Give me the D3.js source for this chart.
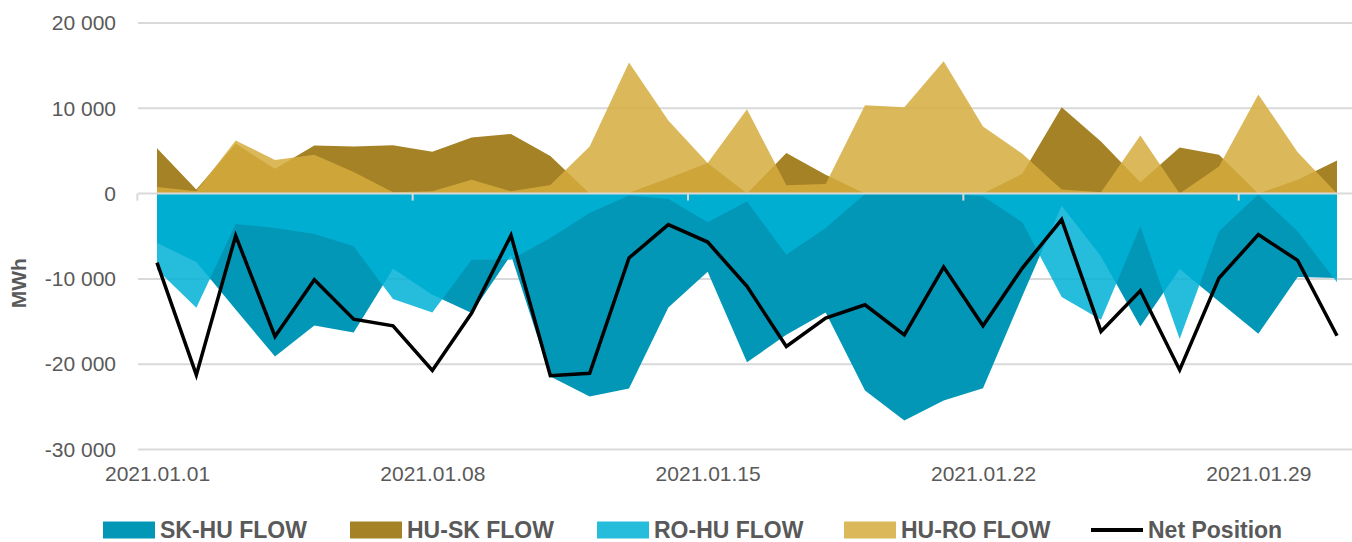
<!DOCTYPE html>
<html>
<head>
<meta charset="utf-8">
<script src="https://cdn.jsdelivr.net/npm/d3@7"></script>
<style>
  body { margin: 0; background: #fff; }
  svg text { font-family: "Liberation Sans", Arial, sans-serif; fill: #595959; }
</style>
</head>
<body>
<svg id="chart" width="1352" height="542"></svg>
<script>
// daily categories
const days = [
  "2021.01.01", "2021.01.02", "2021.01.03", "2021.01.04", "2021.01.05", "2021.01.06", "2021.01.07",
  "2021.01.08", "2021.01.09", "2021.01.10", "2021.01.11", "2021.01.12", "2021.01.13", "2021.01.14",
  "2021.01.15", "2021.01.16", "2021.01.17", "2021.01.18", "2021.01.19", "2021.01.20", "2021.01.21",
  "2021.01.22", "2021.01.23", "2021.01.24", "2021.01.25", "2021.01.26", "2021.01.27", "2021.01.28",
  "2021.01.29", "2021.01.30", "2021.01.31"
];
const labelDays = ["2021.01.01", "2021.01.08", "2021.01.15", "2021.01.22", "2021.01.29"];
const yTicks = [-30000, -20000, -10000, 0, 10000, 20000];

// MWh per day
const skHu = [-5790, -8020, -13600, -19100, -15460, -16280, -8810, -11860, -14010, -7200, -21450,
  -23800, -22860, -13350, -9160, -19770, -16560, -13930, -23090, -26610, -24270, -22820, -12010,
  -1410, -7360, -15580, -8850, -12640, -16440, -9780, -9900];
const huSk = [5330, 470, 5840, 2920, 5640, 5530, 5680, 4900, 6580, 7000, 4400, 0, 100, 1800, 3600,
  0, 4750, 2200, 0, 0, 0, 0, 2330, 10120, 6110, 1320, 5410, 4550, 0, 1630, 3890];
const roHu = [-8900, -13380, -3560, -4030, -4740, -6180, -12370, -13930, -7750, -7750, -5200, -2270,
  -230, -630, -3370, -940, -7160, -4030, -50, 0, 0, -300, -3370, -12130, -14790, -3840, -17060,
  -4420, -100, -4420, -10400];
const huRo = [780, 270, 6230, 3930, 4550, 2530, 150, 270, 1630, 270, 1000, 5530, 15370, 8560, 3580,
  9880, 970, 1130, 10350, 10120, 15530, 7860, 4670, 470, 150, 6810, 0, 3190, 11630, 4860, 0];
const netPos = [-8100, -21250, -4930, -16750, -10100, -14720, -15500, -20740, -14010, -4900, -21350,
  -21060, -7550, -3640, -5680, -10880, -17930, -14600, -13030, -16560, -8610, -15500, -8730, -3050,
  -16160, -11390, -20670, -9900, -4810, -7830, -16670];

const series = [
  { name: "SK-HU FLOW", values: skHu, color: "#0397b7", opacity: 1 },
  { name: "HU-SK FLOW", values: huSk, color: "#a68226", opacity: 1 },
  { name: "RO-HU FLOW", values: roHu, color: "#00b2d7", opacity: 0.85 },
  { name: "HU-RO FLOW", values: huRo, color: "#d5ac3d", opacity: 0.85 }
];

const svg = d3.select("#chart");
const plotLeft = 138, plotRight = 1352;

const x = d3.scalePoint().domain(days).range([157, 1337]);
const step = x.step();
const y = d3.scaleLinear().domain([-30000, 20000]).range([449.5, 23]);

const loc = d3.formatLocale({ decimal: ".", thousands: " ", grouping: [3], currency: ["", ""], minus: "-" });
const fmt = loc.format(",d");

// gridlines
svg.append("g")
  .selectAll("line")
  .data(yTicks.filter(d => d !== 0))
  .join("line")
  .attr("x1", plotLeft)
  .attr("x2", plotRight)
  .attr("y1", d => y(d))
  .attr("y2", d => y(d))
  .attr("stroke", "#d9d9d9")
  .attr("stroke-width", 2);

// areas (overlapping, light ones semi transparent on top)
const area = d3.area()
  .x((d, i) => x(days[i]))
  .y0(y(0))
  .y1(d => y(d));

const drawOrder = [1, 0, 3, 2];
svg.append("g")
  .selectAll("path")
  .data(drawOrder.map(i => series[i]))
  .join("path")
  .attr("d", d => area(d.values))
  .attr("fill", d => d.color)
  .attr("fill-opacity", d => d.opacity);

// y axis labels
const yAxisG = svg.append("g")
  .attr("transform", "translate(116 0)")
  .call(d3.axisLeft(y).tickValues(yTicks).tickFormat(fmt).tickSize(0).tickPadding(0));
yAxisG.select(".domain").remove();
yAxisG.selectAll("text")
  .style("font-size", "21px")
  .style("font-family", "Liberation Sans, Arial, sans-serif")
  .attr("fill", "#595959");

// zero axis line with tick marks between weeks
svg.append("line")
  .attr("x1", plotLeft)
  .attr("x2", plotRight)
  .attr("y1", y(0))
  .attr("y2", y(0))
  .attr("stroke", "#d9d9d9")
  .attr("stroke-width", 2);

svg.append("g")
  .selectAll("line")
  .data(labelDays)
  .join("line")
  .attr("x1", d => x(d) - step / 2)
  .attr("x2", d => x(d) - step / 2)
  .attr("y1", y(0))
  .attr("y2", y(0) + 7)
  .attr("stroke", "#d9d9d9")
  .attr("stroke-width", 2);

// x labels
const xAxisG = svg.append("g")
  .attr("transform", "translate(0 466)")
  .call(d3.axisBottom(x).tickValues(labelDays).tickSize(0).tickPadding(0));
xAxisG.select(".domain").remove();
xAxisG.selectAll("text")
  .attr("dy", "0.71em")
  .style("font-size", "21px")
  .style("font-family", "Liberation Sans, Arial, sans-serif")
  .attr("fill", "#595959");

// net position line
const line = d3.line()
  .x((d, i) => x(days[i]))
  .y(d => y(d));

svg.append("path")
  .attr("d", line(netPos))
  .attr("fill", "none")
  .attr("stroke", "#000")
  .attr("stroke-width", 3.5)
  .attr("stroke-linejoin", "miter");

// y title
svg.append("text")
  .attr("transform", `translate(26 ${y(-10500)}) rotate(-90)`)
  .attr("text-anchor", "middle")
  .style("font-size", "21px")
  .style("font-weight", 700)
  .text("MWh");

// legend, equally spaced items
const legendItems = series.map(s => ({ name: s.name, color: s.color, opacity: s.opacity, type: "rect" }))
  .concat([{ name: "Net Position", color: "#000", opacity: 1, type: "line" }]);

const legend = svg.append("g").attr("transform", "translate(103 530)");
const legendG = legend.selectAll("g")
  .data(legendItems)
  .join("g")
  .attr("transform", (d, i) => `translate(${i * 247} 0)`);

legendG.filter(d => d.type === "rect")
  .append("rect")
  .attr("x", 0)
  .attr("y", -8.5)
  .attr("width", 52)
  .attr("height", 17)
  .attr("fill", d => d.color)
  .attr("fill-opacity", d => d.opacity);

legendG.filter(d => d.type === "line")
  .append("line")
  .attr("x1", 0)
  .attr("x2", 52)
  .attr("y1", 0)
  .attr("y2", 0)
  .attr("stroke", d => d.color)
  .attr("stroke-width", 4);

legendG.append("text")
  .attr("x", 57)
  .attr("y", 0)
  .attr("dy", "0.36em")
  .style("font-size", "23px")
  .style("font-weight", 700)
  .text(d => d.name);
</script>
</body>
</html>
